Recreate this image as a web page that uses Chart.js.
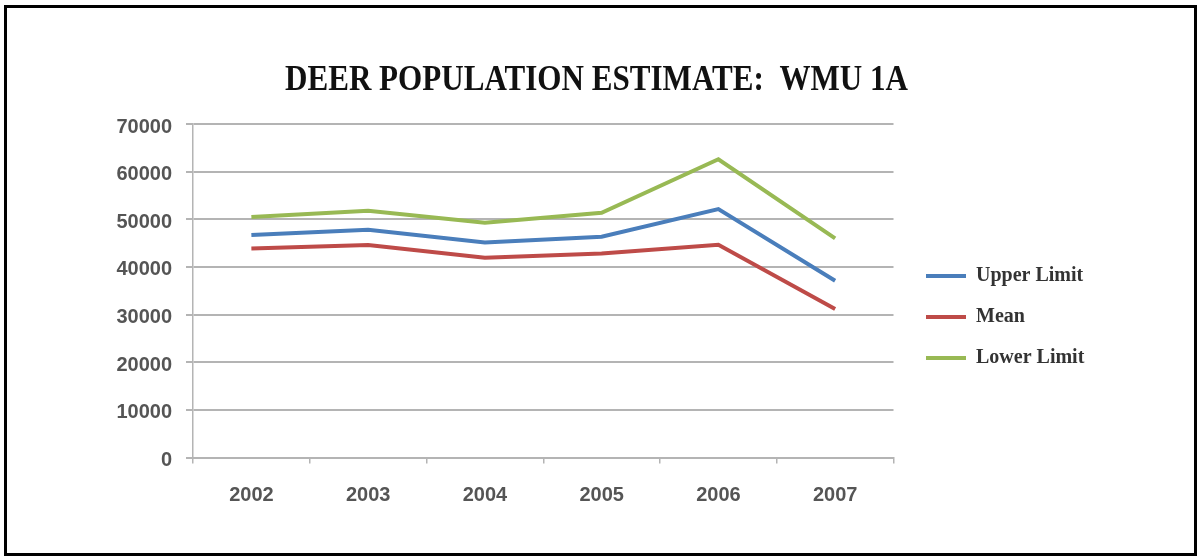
<!DOCTYPE html>
<html>
<head>
<meta charset="utf-8">
<script src="https://cdn.jsdelivr.net/npm/chart.js@4.4.1/dist/chart.umd.min.js"></script>
<style>
  html, body { margin: 0; padding: 0; background: #fff; }
  #wrap { position: relative; width: 1201px; height: 557px; overflow: hidden; }
  #chart { position: absolute; left: 0; top: 0; }
  #frame {
    position: absolute; left: 4px; top: 5px; width: 1193px; height: 551px;
    border: 3px solid #000; box-sizing: border-box; pointer-events: none;
  }
</style>
</head>
<body>
<div id="wrap">
  <canvas id="chart" width="1201" height="557"></canvas>
  <div id="frame"></div>
</div>
<script>
// Deer population estimates for WMU 1A, 2002-2007
const years = ['2002', '2003', '2004', '2005', '2006', '2007'];
const upperLimit = [46700, 47800, 45150, 46350, 52150, 37100];
const mean = [43850, 44600, 41950, 42800, 44650, 31150];
const lowerLimit = [50500, 51800, 49300, 51350, 62600, 46000];
const yMin = 0;
const yMax = 70000;
const yStep = 10000;
const chartTitle = 'DEER POPULATION ESTIMATE:  WMU 1A';

const GRID = '#b4b4b4';
const TICK_FONT = { family: "'Liberation Sans', Arial, sans-serif", size: 20, weight: 'bold' };

// Condensed bold serif heading, drawn on the canvas above the plot
const titlePlugin = {
  id: 'condensedTitle',
  afterDraw(chart) {
    const ctx = chart.ctx;
    ctx.save();
    ctx.font = "bold 35px 'Liberation Serif', 'Times New Roman', serif";
    ctx.fillStyle = '#111';
    ctx.textAlign = 'center';
    ctx.textBaseline = 'alphabetic';
    ctx.fillText(chartTitle, 596.5, 90, 623);
    ctx.restore();
  }
};

// Keeps the legend column at a fixed width and position to the right of the plot
const legendPlacement = {
  id: 'legendPlacement',
  afterInit(chart) {
    const lg = chart.legend;
    const fit = lg.fit.bind(lg);
    lg.fit = function () { fit(); this.width = 1201 - 893.5; };
  },
  afterLayout(chart) {
    const lg = chart.legend;
    const pad = lg.options.labels.padding;
    const colH = lg.columnSizes && lg.columnSizes[0] ? lg.columnSizes[0].height : 123;
    const firstTop = 266;
    lg.left = 926 - pad;
    lg.right = 1201;
    lg.top = firstTop - pad;
    lg.bottom = lg.top + colH + pad;
  }
};

new Chart(document.getElementById('chart'), {
  type: 'line',
  data: {
    labels: years,
    datasets: [
      { label: 'Upper Limit', data: upperLimit, borderColor: '#4a7ebb', backgroundColor: '#4a7ebb' },
      { label: 'Mean', data: mean, borderColor: '#be4b48', backgroundColor: '#be4b48' },
      { label: 'Lower Limit', data: lowerLimit, borderColor: '#98b954', backgroundColor: '#98b954' }
    ]
  },
  options: {
    responsive: false,
    animation: false,
    devicePixelRatio: 1,
    layout: { padding: { top: 124, left: 0, right: 0, bottom: 0 } },
    elements: {
      line: { borderWidth: 4, tension: 0, fill: false },
      point: { radius: 0, hoverRadius: 0 }
    },
    plugins: {
      title: { display: false },
      tooltip: { enabled: false },
      legend: {
        position: 'right',
        align: 'center',
        labels: {
          boxWidth: 40,
          boxHeight: 4,
          padding: 21,
          color: '#333',
          font: { family: "'Liberation Serif', 'Times New Roman', serif", size: 20, weight: 'bold' },
          generateLabels(chart) {
            return Chart.defaults.plugins.legend.labels.generateLabels(chart).map(l => ({
              ...l, fillStyle: l.strokeStyle, lineWidth: 0
            }));
          }
        }
      }
    },
    scales: {
      x: {
        offset: true,
        afterFit(scale) { scale.height = 557 - 457.5; },
        grid: { display: true, drawOnChartArea: false, drawTicks: true, tickLength: 6, offset: true, color: GRID, lineWidth: 1.5 },
        border: { display: true, color: GRID, width: 2 },
        ticks: { color: '#555', font: TICK_FONT, padding: 20, maxRotation: 0 }
      },
      y: {
        min: yMin,
        max: yMax,
        afterFit(scale) { scale.width = 193; },
        grid: { color: GRID, lineWidth: 2, tickLength: 7, drawTicks: true },
        border: { display: true, color: GRID, width: 1.5 },
        ticks: {
          stepSize: yStep, color: '#555', font: TICK_FONT, padding: 14, labelOffset: 3,
          callback: v => String(v)
        }
      }
    }
  },
  plugins: [titlePlugin, legendPlacement]
});
</script>
</body>
</html>
